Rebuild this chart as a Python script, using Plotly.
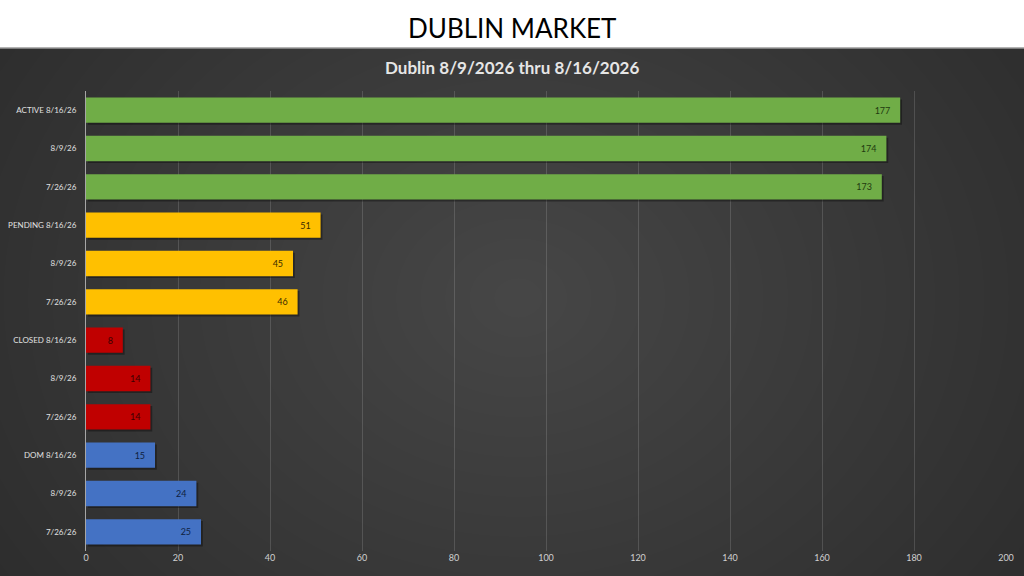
import plotly.graph_objects as go

# data, top to bottom
labels = ["ACTIVE 8/16/26", "8/9/26", "7/26/26",
          "PENDING 8/16/26", "8/9/26", "7/26/26",
          "CLOSED 8/16/26", "8/9/26", "7/26/26",
          "DOM 8/16/26", "8/9/26", "7/26/26"]
values = [177, 174, 173, 51, 45, 46, 8, 14, 14, 15, 24, 25]
groups = ["active"] * 3 + ["pending"] * 3 + ["closed"] * 3 + ["dom"] * 3
xticks = list(range(0, 201, 20))

bar_col = {"active": "#70AD47", "pending": "#FFC000", "closed": "#C00000", "dom": "#4472C4"}
txt_col = {"active": "#1F3A10", "pending": "#3A2A00", "closed": "#3A0000", "dom": "#0F1F40"}

pos = list(range(len(labels)))
W, H = 1024, 576
L, R, T, B = 86, 18, 91, 25
pw, ph = W - L - R, H - T - B

fig = go.Figure()
# soft shadow behind each bar
fig.add_trace(go.Bar(
    x=values, y=[p + 0.05 for p in pos], orientation="h", width=0.66,
    base=0.4, marker=dict(color="rgba(0,0,0,0.35)", line=dict(width=0)),
    hoverinfo="skip", showlegend=False))
fig.add_trace(go.Bar(
    x=values, y=pos, orientation="h", width=0.66,
    marker=dict(color=[bar_col[g] for g in groups], line=dict(width=0)),
    text=[str(v) + "\u00a0\u00a0\u00a0" for v in values],
    textposition="inside", insidetextanchor="end",
    textfont=dict(size=9, color=[txt_col[g] for g in groups], family="Lato"),
    showlegend=False))

shapes = []
# radial-ish gradient on the dark panel
n = 30
for i in range(n):
    r = 1 - i / n
    cx, cy = 0.47, 0.55
    shapes.append(dict(type="circle", xref="paper", yref="paper", layer="below",
                       x0=cx - 0.8 * r, x1=cx + 0.8 * r, y0=cy - 1.3 * r, y1=cy + 1.3 * r,
                       fillcolor="rgba(255,255,255,0.0065)", line=dict(width=0)))
# white header band
hy0 = (H - B - 48) / ph
shapes.append(dict(type="rect", xref="paper", yref="paper", layer="above",
                   x0=-L / pw - 0.01, x1=1 + R / pw + 0.01, y0=hy0, y1=hy0 + 60 / ph,
                   fillcolor="white", line=dict(width=0)))
shapes.append(dict(type="line", xref="paper", yref="paper", layer="above",
                   x0=-L / pw, x1=1 + R / pw, y0=hy0, y1=hy0,
                   line=dict(color="#9A9A9A", width=1.5)))

fig.update_layout(
    width=W, height=H,
    margin=dict(l=L, r=R, t=T, b=B, autoexpand=False),
    paper_bgcolor="#282828", plot_bgcolor="rgba(0,0,0,0)",
    barmode="overlay",
    shapes=shapes,
    annotations=[
        dict(text="DUBLIN MARKET", xref="paper", yref="paper", x=(512 - L) / pw,
             y=(H - B - 28) / ph, xanchor="center", yanchor="middle", showarrow=False,
             font=dict(size=26, color="#000000", family="Lato")),
        dict(text="<b>Dublin 8/9/2026 thru 8/16/2026</b>", xref="paper", yref="paper",
             x=(512 - L) / pw, y=(H - B - 68) / ph, xanchor="center", yanchor="middle",
             showarrow=False, font=dict(size=17, color="#E6E6E6", family="Lato")),
    ],
    xaxis=dict(range=[0, 200], tickvals=xticks, showgrid=True,
               gridcolor="rgba(255,255,255,0.14)", gridwidth=1, zeroline=False,
               tickfont=dict(size=9, color="#D0D0D0", family="Lato"),
               ticks="", fixedrange=True),
    yaxis=dict(tickvals=pos, ticktext=labels, range=[len(labels) - 0.5, -0.5],
               showgrid=False, zeroline=False, ticks="",
               showline=True, linecolor="#A6A6A6", linewidth=1,
               tickfont=dict(size=8, color="#E0E0E0", family="Lato"),
               ticklabelstandoff=7, fixedrange=True),
)

fig.write_html("out.html", config={"displayModeBar": False},
               post_script="document.body.style.margin='0';")
